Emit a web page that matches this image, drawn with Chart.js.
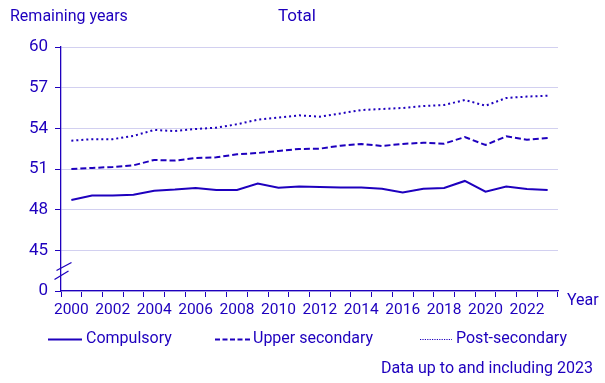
<!DOCTYPE html>
<html><head><meta charset="utf-8">
<script src="https://cdn.jsdelivr.net/npm/chart.js@4.4.1/dist/chart.umd.min.js"></script>
<style>html,body{margin:0;padding:0;background:#fff}#wrap{width:605px;height:383px;position:relative}</style>
</head><body><div id="wrap"><canvas id="c" width="605" height="383"></canvas></div>
<script>
const years = [2000,2001,2002,2003,2004,2005,2006,2007,2008,2009,2010,2011,2012,2013,2014,2015,2016,2017,2018,2019,2020,2021,2022,2023];
const compulsory = [48.72,49.05,49.05,49.1,49.4,49.48,49.6,49.45,49.45,49.92,49.62,49.7,49.68,49.63,49.63,49.55,49.26,49.55,49.6,50.12,49.33,49.7,49.53,49.45];
const upperSecondary = [51.0,51.08,51.15,51.27,51.67,51.62,51.81,51.86,52.09,52.18,52.33,52.48,52.5,52.72,52.85,52.7,52.85,52.94,52.87,53.36,52.77,53.41,53.16,53.29];
const postSecondary = [53.09,53.2,53.2,53.44,53.88,53.8,53.95,54.05,54.3,54.64,54.79,54.96,54.86,55.1,55.35,55.43,55.5,55.65,55.72,56.09,55.67,56.24,56.34,56.41];
const seriesNames = ['Compulsory','Upper secondary','Post-secondary'];
const yTicks = [42,45,48,51,54,57,60];
const yTickLabels = ['0','45','48','51','54','57','60'];

const C = '#1e00be';
const FONT = 'Roboto, "Noto Sans", sans-serif';
const dashes = [[], [6,3], [2,3]];
const widths = [2, 2, 2];

const extras = {
  id: 'extras',
  afterDraw(chart) {
    const ctx = chart.ctx;
    ctx.save();
    ctx.fillStyle = C;
    ctx.textBaseline = 'middle';
    ctx.font = '16px ' + FONT;
    ctx.textAlign = 'left';
    ctx.fillText('Remaining years', 10, 17);
    ctx.font = '17px ' + FONT;
    ctx.textAlign = 'center';
    ctx.fillText('Total', 297, 17);
    ctx.font = '16px ' + FONT;
    ctx.textAlign = 'left';
    ctx.fillText('Year', 567, 301);
    ctx.textAlign = 'right';
    ctx.fillText('Data up to and including 2023', 593, 369);
    // legend
    const leg = [[48,82,86],[215,250,253],[420,452,456]];
    const legDash = [[], [5,2.5], [1.2,1.2]];
    const legW = [2, 2, 1];
    ctx.textAlign = 'left';
    for (let i = 0; i < 3; i++) {
      ctx.strokeStyle = C;
      ctx.lineWidth = legW[i];
      ctx.setLineDash(legDash[i]);
      ctx.beginPath();
      ctx.moveTo(leg[i][0], 339.5);
      ctx.lineTo(leg[i][1], 339.5);
      ctx.stroke();
      ctx.fillText(seriesNames[i], leg[i][2], 339);
    }
    ctx.setLineDash([]);
    // axis break marks
    ctx.strokeStyle = C;
    ctx.lineWidth = 1.3;
    ctx.beginPath();
    ctx.moveTo(56.5, 270.5); ctx.lineTo(71.5, 262.5);
    ctx.moveTo(54.5, 279.5); ctx.lineTo(68.5, 271);
    ctx.stroke();
    ctx.restore();
  }
};

const vals = [compulsory, upperSecondary, postSecondary];
new Chart(document.getElementById('c'), {
  type: 'line',
  data: {
    labels: years.map(String),
    datasets: vals.map((v, i) => ({
      label: seriesNames[i],
      data: v,
      borderColor: C,
      backgroundColor: C,
      borderWidth: widths[i],
      borderDash: dashes[i],
      pointRadius: 0,
      tension: 0,
      fill: false
    }))
  },
  options: {
    responsive: false,
    animation: false,
    devicePixelRatio: 1,
    layout: { padding: { top: 47, left: 0, right: 47, bottom: 0 } },
    plugins: { legend: { display: false }, title: { display: false }, tooltip: { enabled: false } },
    scales: {
      x: {
        type: 'category',
        offset: true,
        afterFit(s) { s.height = 92; },
        grid: { offset: true, drawOnChartArea: false, color: C, tickColor: C, tickLength: 6, lineWidth: 1 },
        border: { color: C, width: 1.3 },
        ticks: {
          autoSkip: false, maxRotation: 0, minRotation: 0, padding: 4,
          color: C, font: { family: FONT, size: 15.5 },
          callback(v, i) { return years[i] % 2 === 0 ? String(years[i]) : ''; }
        }
      },
      y: {
        min: 42, max: 60,
        afterFit(s) { s.width = 61; },
        afterBuildTicks(s) { s.ticks = yTicks.map(v => ({ value: v })); },
        grid: { color: '#d2d0f0', tickColor: C, tickLength: 6, lineWidth: 1 },
        border: { color: C, width: 1.3 },
        ticks: {
          padding: 7, color: C, font: { family: FONT, size: 17 },
          callback(v) { const k = yTicks.indexOf(v); return k >= 0 ? yTickLabels[k] : ''; }
        }
      }
    }
  },
  plugins: [extras]
});
</script></body></html>
